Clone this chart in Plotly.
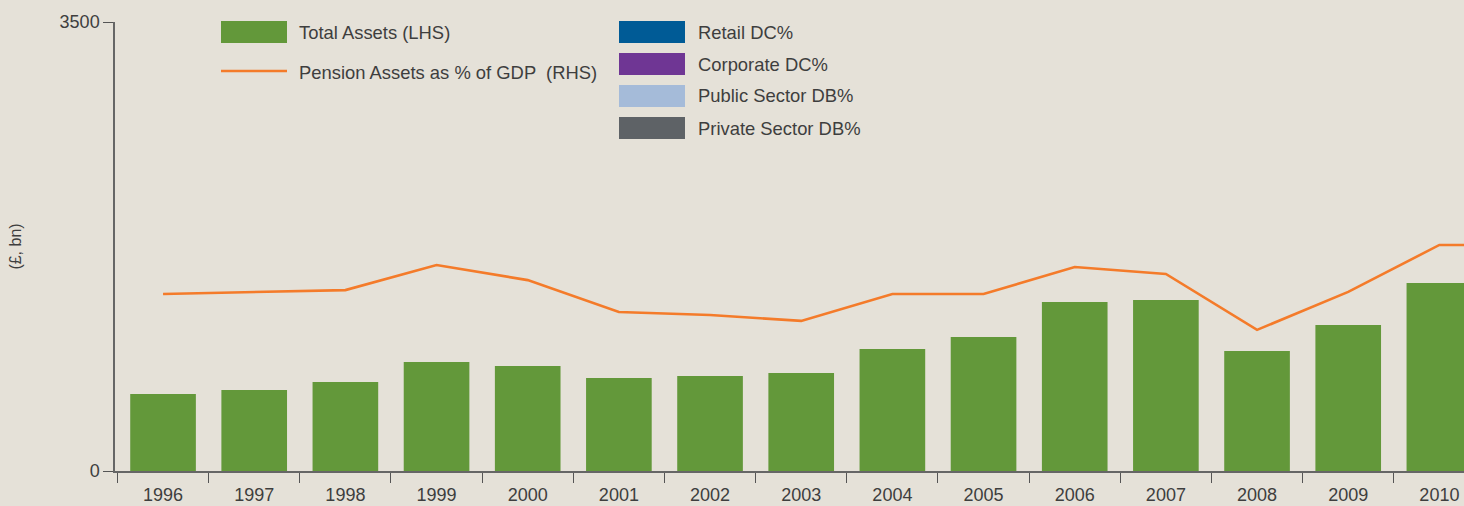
import plotly.graph_objects as go

# data
years = ["1996", "1997", "1998", "1999", "2000", "2001", "2002", "2003",
         "2004", "2005", "2006", "2007", "2008", "2009", "2010", "2011"]
total_assets = [600, 631, 694, 850, 818, 725, 740, 764,
                951, 1044, 1317, 1333, 935, 1138, 1465, None]
pension_pct_gdp = [69.0, 69.8, 70.5, 80.3, 74.4, 62.0, 60.8, 58.5,
                   69.0, 69.0, 79.5, 76.8, 55.0, 69.8, 88.1, 88.1]

legend_left = [("Total Assets (LHS)", "bar", "#63983a"),
               ("Pension Assets as % of GDP  (RHS)", "line", "#f47b2a")]
legend_right = [("Retail DC%", "#005b96"),
                ("Corporate DC%", "#6f3694"),
                ("Public Sector DB%", "#a5bbd9"),
                ("Private Sector DB%", "#5e6266")]

W, H = 1464, 506
L, R, T, B = 115, 0, 22, 35
BG = "#e5e1d8"
TXT = "#3e3e3e"
FONT = "Liberation Sans"


def px_x(x):
    return (x - L) / (W - L - R)


def px_y(y):
    return (H - B - y) / (H - T - B)


fig = go.Figure()
fig.add_trace(go.Bar(x=years, y=total_assets, marker_color="#63983a",
                     marker_line_width=0, width=0.72, showlegend=False))
fig.add_trace(go.Scatter(x=years, y=pension_pct_gdp, yaxis="y2", mode="lines",
                         line=dict(color="#f47b2a", width=2.6), showlegend=False))

shapes = []
annotations = []

# hand-drawn legend, two blocks
for i, (name, kind, col) in enumerate(legend_left):
    yc = [32, 72][i]
    if kind == "bar":
        shapes.append(dict(type="rect", xref="paper", yref="paper",
                           x0=px_x(221), x1=px_x(287), y0=px_y(yc + 11), y1=px_y(yc - 11),
                           fillcolor=col, line_width=0))
    else:
        shapes.append(dict(type="line", xref="paper", yref="paper",
                           x0=px_x(221), x1=px_x(287), y0=px_y(yc - 1), y1=px_y(yc - 1),
                           line=dict(color=col, width=2.6)))
    annotations.append(dict(xref="paper", yref="paper", x=px_x(297), y=px_y(yc),
                            text=name, showarrow=False, xanchor="left", yanchor="middle",
                            font=dict(family=FONT, size=18.4, color=TXT)))

for i, (name, col) in enumerate(legend_right):
    yc = 32 + 32 * i
    shapes.append(dict(type="rect", xref="paper", yref="paper",
                       x0=px_x(619), x1=px_x(685), y0=px_y(yc + 11), y1=px_y(yc - 11),
                       fillcolor=col, line_width=0))
    annotations.append(dict(xref="paper", yref="paper", x=px_x(696), y=px_y(yc),
                            text=name, showarrow=False, xanchor="left", yanchor="middle",
                            font=dict(family=FONT, size=18.4, color=TXT)))

fig.update_layout(
    width=W, height=H,
    margin=dict(l=L, r=R, t=T, b=B, pad=0),
    paper_bgcolor=BG, plot_bgcolor=BG,
    font=dict(family=FONT, size=18, color=TXT),
    bargap=0.28,
    xaxis=dict(type="category", range=[-0.527, 14.27], tickson="boundaries",
               ticks="outside", ticklen=10, tickcolor="#555", tickwidth=1.2,
               ticklabelstandoff=7,
               showline=True, linecolor="#666", linewidth=1.5,
               showgrid=False, zeroline=False, fixedrange=True),
    yaxis=dict(range=[0, 3500], tickvals=[0, 3500], ticks="outside", ticklen=10,
               tickcolor="#555", tickwidth=1.2, showline=True, linecolor="#666",
               linewidth=1.5, showgrid=False, zeroline=False,
               title=dict(text="(£, bn)", standoff=34, font=dict(size=16))),
    yaxis2=dict(range=[0, 175], overlaying="y", side="right", visible=False),
    shapes=shapes,
    annotations=annotations,
)

fig.write_html("out.html", config={"displayModeBar": False},
               post_script="document.body.style.margin='0';")
